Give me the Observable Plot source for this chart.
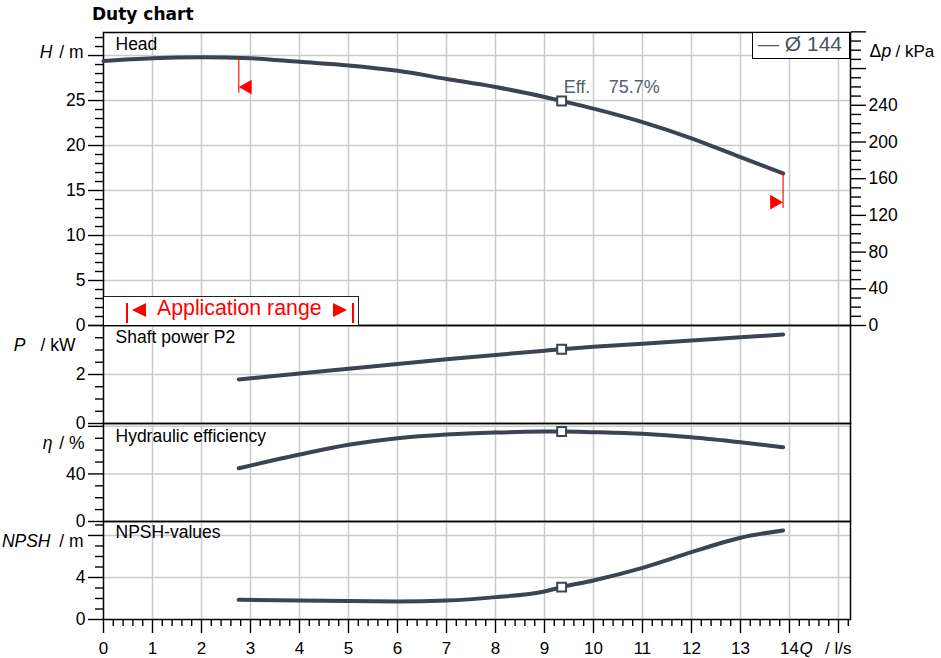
<!DOCTYPE html>
<html>
<head>
<meta charset="utf-8">
<script src="https://cdn.jsdelivr.net/npm/d3@7"></script>
<script src="https://cdn.jsdelivr.net/npm/@observablehq/plot@0.6"></script>
<style>
html, body { margin: 0; padding: 0; background: #fff; overflow: hidden; }
#chart { position: relative; width: 941px; height: 658px; font-family: "Liberation Sans", Arial, sans-serif; }
.abs { position: absolute; }
#title { left: 92px; top: 6px; font: bold 17px/17px "DejaVu Sans", sans-serif; color: #000; white-space: nowrap; }
#legend { left: 752px; top: 32px; width: 98px; height: 27px; box-sizing: border-box; border: 1.5px solid #000; background: #fff; }
#legendText { left: 758px; top: 33px; font: 21px/21px "Liberation Sans", Arial, sans-serif; color: #4b535c; white-space: pre; }
#appBox { left: 104px; top: 296px; width: 255px; height: 29px; box-sizing: border-box; border-top: 1.5px solid #222; border-right: 1.5px solid #222; background: #fff; }
.bar { width: 2px; height: 20px; top: 303px; background: #f00; }
.triL { width: 0; height: 0; top: 303px; border-top: 7px solid transparent; border-bottom: 7px solid transparent; border-right: 14px solid #f00; }
.triR { width: 0; height: 0; top: 303px; border-top: 7px solid transparent; border-bottom: 7px solid transparent; border-left: 14px solid #f00; }
#appText { left: 157px; top: 298px; font: 21.3px/21px "Liberation Sans", Arial, sans-serif; color: #f00; white-space: nowrap; }
</style>
</head>
<body>
<div id="chart"></div>
<script>
// ---------------- data ----------------
const titleText = "Duty chart";
const legendLabel = "Ø 144";
const appRangeLabel = "Application range";

// Head curve  H / m  vs  Q / l/s
const headQ = [0, 1, 2, 3, 4, 5, 6, 7, 8, 9, 9.35, 10, 11, 12, 13, 13.87];
const headH = [29.4, 29.7, 29.8, 29.7, 29.3, 28.9, 28.3, 27.4, 26.5, 25.4, 24.95, 24.1, 22.6, 20.8, 18.7, 16.9];

// Shaft power P2  P / kW
const powerQ = [2.76, 4, 5, 6, 7, 8, 9, 9.35, 10, 11, 12, 13, 13.87];
const powerP = [1.80, 2.04, 2.23, 2.43, 2.62, 2.80, 2.97, 3.03, 3.13, 3.26, 3.39, 3.52, 3.63];

// Hydraulic efficiency  eta / %
const etaQ = [2.76, 4, 5, 6, 7, 8, 9, 9.35, 10, 11, 12, 13, 13.87];
const etaV = [44.8, 56.3, 64.5, 70.0, 73.1, 74.8, 75.6, 75.7, 75.1, 73.7, 70.8, 66.6, 62.4];

// NPSH  / m
const npshQ = [2.76, 4, 5, 6, 7, 8, 9, 9.35, 10, 11, 12, 12.5, 13, 13.87];
const npshV = [1.87, 1.80, 1.75, 1.71, 1.80, 2.13, 2.67, 3.08, 3.72, 4.92, 6.41, 7.14, 7.78, 8.48];

// duty point
const dutyQ = 9.35, dutyH = 24.95, dutyP = 3.03, dutyEta = 75.7, dutyNPSH = 3.08;

// application range limits (Q) and head there
const appRangeQ = [2.76, 13.87];
const appRangeH = [29.7, 16.9];

// axis ticks
const qMajor = d3.range(0, 16);
const qMinor = d3.range(0, 77).filter(i => i % 5 !== 0).map(i => i / 5);
const hMajor = [0, 5, 10, 15, 20, 25, 30];
const hMinor = d3.range(0, 33).filter(v => v % 5 !== 0);
const dpMajor = [0, 40, 80, 120, 160, 200, 240, 280, 320];
const dpMinor = d3.range(0, 320, 10).filter(v => v % 40 !== 0);
const pMajor = [0, 2, 4];
const pMinor = [0.5, 1, 1.5, 2.5, 3, 3.5];
const etaMajor = [0, 40, 80];
const etaMinor = [10, 20, 30, 50, 60, 70];
const npshMajor = [0, 4, 8];
const npshMinor = [1, 2, 3, 5, 6, 7, 9];

// ---------------- layout / style ----------------
const W = 941, H = 658;
const mL = 103, mR = 91;
const xDomain = [0, 15.245];
const curveColor = "#3b4450";
const gridColor = "#cacaca";
const red = "#ff0000";
const chart = document.getElementById("chart");

const headData = headQ.map((q, i) => ({q, v: headH[i]}));
const powerData = powerQ.map((q, i) => ({q, v: powerP[i]}));
const etaData = etaQ.map((q, i) => ({q, v: etaV[i]}));
const npshData = npshQ.map((q, i) => ({q, v: npshV[i]}));
const appData = appRangeQ.map((q, i) => ({q, h: appRangeH[i]}));

const svgStyle = "position:absolute;left:0;top:0;background:transparent;overflow:visible;max-width:none;font-family:'Liberation Sans',Arial,sans-serif;font-size:17px;color:#000;";

function addPlot(top, bottom, yDomain, marks) {
  const svg = Plot.plot({
    width: W, height: H,
    marginLeft: mL, marginRight: mR, marginTop: top, marginBottom: H - bottom,
    x: {domain: xDomain, axis: null},
    y: {domain: yDomain, axis: null},
    style: svgStyle,
    marks
  });
  chart.appendChild(svg);
}

const grids = (yTicks) => [
  Plot.gridX(qMajor.filter(d => d > 0), {stroke: gridColor, strokeOpacity: 1, strokeWidth: 1.5}),
  Plot.gridY(yTicks, {stroke: gridColor, strokeOpacity: 1, strokeWidth: 1.5})
];
const frame = () => Plot.frame({stroke: "#000", strokeWidth: 1.5});
const leftAxes = (major, minor, fmt) => [
  Plot.axisY(major, {anchor: "left", tickSize: 15, tickPadding: 3, tickFormat: fmt, label: null, strokeWidth: 1.4, fontSize: 17.5}),
  Plot.axisY(minor, {anchor: "left", tickSize: 8, fill: "none", label: null, strokeWidth: 1.4})
];
const curve = (data) => Plot.line(data, {x: "q", y: "v", stroke: curveColor, strokeWidth: 4, curve: "monotone-x"});
const dutyMark = (q, v) => Plot.dot([{q, v}], {x: "q", y: "v", symbol: "square", r: 5, fill: "#fff", stroke: curveColor, strokeWidth: 2});
const panelLabel = (t, dy) => Plot.text([t], {text: d => d, frameAnchor: "top-left", dx: 12, dy, lineAnchor: "top", textAnchor: "start", fontSize: 17.5, fill: "#000"});
const axisTitle = (at, italic, rest, dxI, dxR) => [
  Plot.text([at], {y: d => d, text: () => italic, frameAnchor: "left", dx: dxI, textAnchor: "end", fontStyle: "italic", fontSize: 17.5, fill: "#000"}),
  Plot.text([at], {y: d => d, text: () => rest, frameAnchor: "left", dx: dxR, textAnchor: "end", fontSize: 17.5, fill: "#000"})
];

// ---------------- panel 1 : Head ----------------
addPlot(32, 325, [0, 32.56], [
  ...grids([5, 10, 15, 20, 25, 30]),
  frame(),
  curve(headData),
  Plot.ruleX(appData, {x: "q", y1: "h", y2: d => d.h - 3.9, stroke: red, strokeWidth: 1.5, strokeOpacity: 0.75}),
  Plot.dot(appData.slice(0, 1), {x: "q", y: d => d.h - 3.2, symbol: "triangle", r: 5.5, fill: red, stroke: "none", rotate: -90, dx: 8.7}),
  Plot.dot(appData.slice(1), {x: "q", y: d => d.h - 3.2, symbol: "triangle", r: 5.5, fill: red, stroke: "none", rotate: 90, dx: -8.7}),
  dutyMark(dutyQ, dutyH),
  Plot.text([dutyQ], {x: d => d, y: () => dutyH, text: () => "Eff.", dx: 2, dy: -14, textAnchor: "start", fontSize: 18, fill: "#56606a"}),
  Plot.text([dutyQ], {x: d => d, y: () => dutyH, text: () => dutyEta + "%", dx: 47, dy: -14, textAnchor: "start", fontSize: 18, fill: "#56606a"}),
  ...leftAxes(hMajor, hMinor, d => d < 30 ? d : ""),
  ...axisTitle(30.3, "H", "/ m", -51, -20),
  panelLabel("Head", 5)
]);

// right axis Δp / kPa
addPlot(32, 325, [0, 32.56 * 9.80665], [
  Plot.axisY(dpMajor, {anchor: "right", tickSize: 15, tickPadding: 3, tickFormat: d => d <= 240 ? d : "", label: null, strokeWidth: 1.4, fontSize: 17.5}),
  Plot.axisY(dpMinor, {anchor: "right", tickSize: 10, fill: "none", label: null, strokeWidth: 1.4}),
  Plot.text([298.6], {y: d => d, text: () => "Δ", frameAnchor: "right", dx: 19, textAnchor: "start", fontSize: 17.5, fill: "#000"}),
  Plot.text([298.6], {y: d => d, text: () => "p", frameAnchor: "right", dx: 31, textAnchor: "start", fontStyle: "italic", fontSize: 17.5, fill: "#000"}),
  Plot.text([298.6], {y: d => d, text: () => "/ kPa", frameAnchor: "right", dx: 45, textAnchor: "start", fontSize: 17, fill: "#000"})
]);

// ---------------- panel 2 : Shaft power ----------------
addPlot(325, 423, [0, 4], [
  ...grids([2]),
  frame(),
  curve(powerData),
  dutyMark(dutyQ, dutyP),
  ...leftAxes(pMajor, pMinor, d => d < 4 ? d : ""),
  ...axisTitle(3.18, "P", "/ kW", -78, -28),
  panelLabel("Shaft power P2", 5)
]);

// ---------------- panel 3 : Efficiency ----------------
addPlot(423, 521, [0, 82.4], [
  ...grids([40, 80]),
  frame(),
  curve(etaData),
  dutyMark(dutyQ, dutyEta),
  ...leftAxes(etaMajor, etaMinor, d => d < 80 ? d : ""),
  ...axisTitle(65.5, "η", "/ %", -51, -19),
  panelLabel("Hydraulic efficiency", 6)
]);

// ---------------- panel 4 : NPSH ----------------
addPlot(521, 619, [0, 9.33], [
  ...grids([4, 8]),
  frame(),
  curve(npshData),
  dutyMark(dutyQ, dutyNPSH),
  ...leftAxes(npshMajor, npshMinor, d => d < 8 ? d : ""),
  ...axisTitle(7.48, "NPSH", "/ m", -53, -20),
  panelLabel("NPSH-values", 4),
  Plot.axisX(qMajor, {anchor: "bottom", tickSize: 14, tickPadding: 8.5, tickFormat: d => d <= 14 ? d : "", label: null, strokeWidth: 1.4, fontSize: 17}),
  Plot.axisX(qMinor, {anchor: "bottom", tickSize: 7, fill: "none", label: null, strokeWidth: 1.4}),
  Plot.text(["Q"], {text: d => d, frameAnchor: "bottom-right", dx: -51, dy: 22.5, lineAnchor: "top", textAnchor: "start", fontStyle: "italic", fontSize: 17, fill: "#000"}),
  Plot.text(["/ l/s"], {text: d => d, frameAnchor: "bottom-right", dx: 1, dy: 22.5, lineAnchor: "top", textAnchor: "end", fontSize: 17, fill: "#000"})
]);

// ---------------- HTML annotations: title, legend, application range ----------------
function el(id, cls, text) {
  const d = document.createElement("div");
  if (id) d.id = id;
  d.className = "abs" + (cls ? " " + cls : "");
  if (text != null) d.textContent = text;
  chart.appendChild(d);
  return d;
}
el("title", "", titleText);
el("legend", "");
el("legendText", "", "— " + legendLabel);
el("appBox", "");
el(null, "bar").style.left = "126px";
el(null, "triL").style.left = "132px";
el("appText", "", appRangeLabel);
el(null, "triR").style.left = "333px";
el(null, "bar").style.left = "352px";
</script>
</body>
</html>
